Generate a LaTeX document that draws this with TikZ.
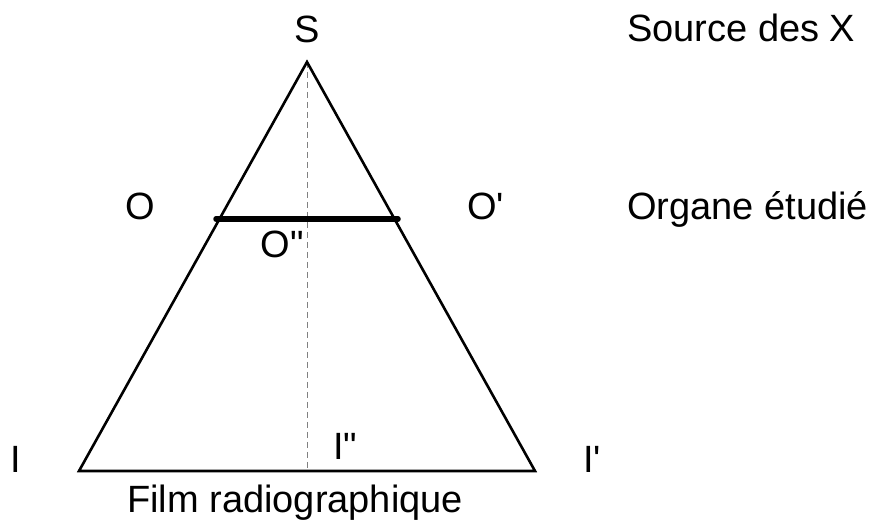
\documentclass[tikz,border=0pt]{standalone}
\usepackage{fontspec}
\setmainfont{Liberation Sans}[Ligatures=TeXOff]
\usetikzlibrary{positioning}

\begin{document}
\begin{tikzpicture}[
            x=1pt, y=1pt,
            txt/.style = {inner sep=0pt, font=\fontsize{38}{45}\selectfont},
            lbl/.style = {txt, anchor=base west},
            side/.style = {line width=2.6pt, line join=miter},
            axe/.style = {line width=0.8pt, gray, dash pattern=on 6pt off 4pt}]
            \useasboundingbox (0,0) rectangle (880,519);
            \coordinate (S) at (307,457);
            \coordinate (I) at (79,48);
            \coordinate (Ip) at (535,48);
            \coordinate (Is) at (307,48);
            \coordinate (O) at (216,300);
            \coordinate (Op) at (398,300);
            \coordinate (Os) at (307,300);
            % axe central
            \draw[axe] (S) -- (Is);
            % faisceau
            \draw[side] (S) -- (I) -- (Ip) -- cycle;
            \draw[line width=5.5pt, line cap=round] (O) -- (Op);
            % lettres
            \node[txt, anchor=base] (lS) at (307,476) {S};
            \node[txt, anchor=base] (lO) at (140,299) {O};
            \node[lbl] (lOp) at (467,299) {O'};
            \node[txt, anchor=base] (lOs) at (282,261) {O"};
            \node[txt, anchor=base] (lI) at (16,46) {I};
            \node[lbl] (lIp) at (583,46) {I'};
            \node[lbl] (lIs) at (333,59) {I"};
            % legendes
            \node[lbl] (src) at (627,477) {Source des X};
            \node[lbl] (org) at (627,299) {Organe étudié};
            \node[lbl] (film) at (127,7) {Film radiographique};
        \end{tikzpicture}
\end{document}
